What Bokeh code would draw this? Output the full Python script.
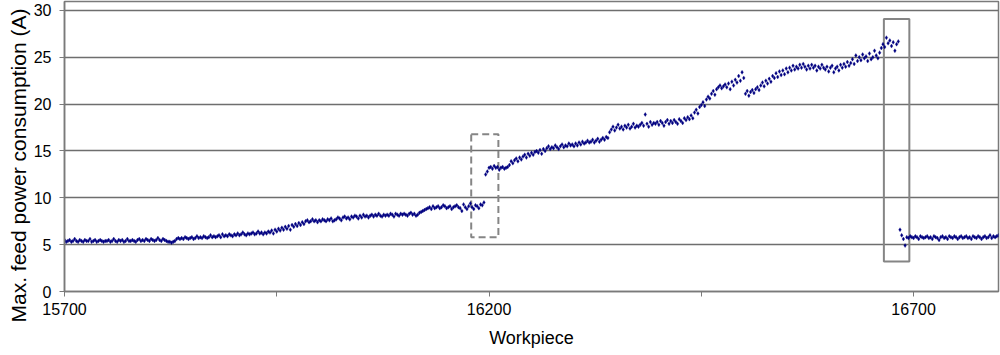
import numpy as np
from bokeh.plotting import figure
from bokeh.models import FixedTicker, Range1d, Title
from bokeh.embed import file_html
from bokeh.resources import INLINE

# ---------------- data ----------------
workpiece_step = 2

seg1_start = 15700
seg1_values = [
    5.5, 5.3, 5.4, 5.5, 5.3, 5.4, 5.6, 5.4, 5.3, 5.5,
    5.4, 5.3, 5.5, 5.4, 5.4, 5.6, 5.3, 5.4, 5.5, 5.3,
    5.4, 5.5, 5.4, 5.3, 5.4, 5.4, 5.5, 5.3, 5.4, 5.6,
    5.4, 5.3, 5.5, 5.4, 5.5, 5.3, 5.4, 5.6, 5.4, 5.4,
    5.5, 5.4, 5.3, 5.5, 5.6, 5.4, 5.5, 5.4, 5.6, 5.5,
    5.4, 5.6, 5.5, 5.4, 5.5, 5.7, 5.5, 5.4, 5.6, 5.5,
    5.4, 5.3, 5.3, 5.2, 5.3, 5.4, 5.6, 5.7, 5.6, 5.7,
    5.6, 5.8, 5.7, 5.6, 5.7, 5.8, 5.6, 5.7, 5.9, 5.7,
    5.8, 5.7, 5.9, 5.8, 5.7, 5.8, 6.0, 5.8, 5.9, 5.8,
    5.9, 6.0, 5.8, 6.1, 5.9, 6.0, 5.9, 6.1, 6.0, 5.9,
    6.1, 6.0, 6.2, 6.0, 6.1, 6.3, 6.1, 6.0, 6.2, 6.1,
    6.2, 6.3, 6.1, 6.2, 6.4, 6.2, 6.3, 6.1, 6.3, 6.2,
    6.4, 6.3, 6.5, 6.2, 6.6, 6.4, 6.7, 6.5, 6.8, 6.6,
    6.9, 6.7, 7.0, 6.6, 7.1, 6.9, 7.2, 7.0, 7.3, 7.1,
    7.4, 7.2, 7.5, 7.6, 7.4, 7.5, 7.7, 7.5, 7.6, 7.4,
    7.6, 7.5, 7.7, 7.6, 7.5, 7.7, 7.6, 7.8, 7.5, 7.6,
    7.7, 7.9, 7.8, 7.6, 7.9, 8.0, 7.8, 7.9, 7.7, 8.0,
    7.9, 8.1, 8.0, 7.8, 8.1, 7.9, 8.2, 8.0, 8.1, 7.9,
    8.1, 8.2, 8.0, 8.2, 8.1, 8.3, 8.1, 8.0, 8.2, 8.1,
    8.2, 8.1, 8.3, 8.2, 8.0, 8.3, 8.2, 8.1, 8.3, 8.2,
    8.3, 8.2, 8.1, 8.3, 8.4, 8.2, 8.3, 8.1, 8.2, 8.4,
    8.5, 8.6, 8.7, 8.8, 8.9, 9.0, 8.8, 9.1, 8.9, 9.0,
    9.1, 8.9, 9.0, 9.2, 9.1, 8.9, 9.0, 9.1, 8.8, 9.0,
    9.1, 9.2, 9.0, 8.9, 8.6, 9.3, 9.0, 8.8, 9.1, 9.4,
    9.0, 8.8, 9.2, 9.1, 8.9, 9.3, 9.2, 9.5,
]

seg2_start = 16196
seg2_values = [
    12.5, 12.8, 13.2, 13.3, 13.1, 13.4, 13.2, 13.3, 13.0, 13.2,
    13.3, 13.1, 13.2, 13.3, 13.5, 13.9, 13.7, 14.0, 14.2, 13.9,
    14.3, 14.1, 14.4, 14.6, 14.3, 14.7, 14.5, 14.8, 14.6, 14.9,
    15.0, 14.8, 15.1, 14.7, 15.2, 15.0, 15.3, 15.5, 15.2, 15.4,
    15.3, 15.6, 15.4, 15.2, 15.5, 15.7, 15.4, 15.6, 15.5, 15.8,
    15.6, 15.7, 15.5, 15.8, 15.6, 15.9, 15.7, 16.0, 15.8, 15.9,
    16.1, 15.9, 16.0, 16.2, 15.9, 16.1, 16.3, 16.0, 16.2, 16.4,
    16.2, 16.5, 16.4, 17.0, 17.3, 17.6, 17.2, 17.5, 17.8, 17.4,
    17.6, 17.3, 17.7, 17.5, 17.8, 17.4, 17.6, 17.9, 17.5, 17.7,
    17.6, 17.8, 18.0, 17.7, 18.9, 17.9, 17.6, 18.1, 17.8, 18.0,
    17.9, 18.1, 17.8, 18.2, 18.0, 17.7, 18.1, 18.3, 17.9, 18.2,
    18.0, 18.3, 18.1, 17.9, 18.4, 18.2, 18.0, 18.5, 18.3, 18.6,
    18.4, 18.8, 18.5, 19.1, 19.4, 19.0, 19.7, 19.9, 20.2, 19.8,
    20.5, 20.8, 20.6, 21.1, 21.4, 21.0, 21.6, 21.8, 22.0, 21.7,
    21.9, 22.1, 21.8, 22.2, 21.6, 22.4, 22.0, 22.6, 22.3, 23.0,
    22.5, 23.4, 22.8, 21.1, 21.4, 20.9, 21.3, 21.5, 21.2, 21.6,
    21.8, 21.5, 22.0, 22.3, 21.9, 22.5, 22.2, 22.7, 22.4, 23.0,
    22.8, 23.3, 22.9, 23.5, 23.1, 23.6, 23.2, 23.8, 23.4, 23.9,
    23.6, 24.1, 23.7, 24.0, 23.8, 24.2, 23.9, 24.3, 24.0, 23.7,
    24.1, 23.8, 24.2, 23.9, 24.1, 23.6, 24.0, 23.8, 24.2, 23.9,
    23.7, 24.0, 23.5, 23.9, 24.1, 23.4, 23.8, 24.0, 23.6, 24.2,
    23.9, 24.3, 24.0, 24.5, 24.1, 24.4, 24.8, 24.3, 25.2, 24.6,
    25.0, 24.7, 25.3, 24.9, 25.1, 24.6, 25.4, 24.8, 25.0, 25.7,
    25.2, 24.9, 25.5, 26.0, 26.4, 26.1, 27.1, 26.5, 26.8, 26.2,
    26.6, 25.7, 26.4, 26.7,
]

seg3_start = 16684
seg3_values = [
    6.6, 6.0, 5.6, 4.9, 5.8, 5.7, 5.9, 5.8, 5.7, 5.9,
    5.8, 5.6, 5.9, 5.8, 5.7, 5.8, 5.9, 5.7, 5.8, 5.6,
    5.9, 5.8, 5.7, 5.5, 5.8, 5.9, 5.7, 5.8, 5.6, 5.9,
    5.8, 5.7, 5.9, 5.8, 5.6, 5.8, 5.9, 5.7, 5.8, 5.9,
    5.7, 5.8, 5.6, 5.9, 5.8, 5.7, 5.9, 5.8, 5.6, 5.8,
    5.9, 5.7, 5.8, 6.0, 5.7, 5.9, 5.8, 5.9, 6.0,
]

# highlighted regions (workpiece range, current range)
dashed_box = dict(left=[16179], right=[16211], bottom=[5.8], top=[16.8])
solid_box = dict(left=[16665], right=[16695], bottom=[3.2], top=[29.1])

x_major_ticks = [15700, 16200, 16700]
x_minor_ticks = [15950, 16450]
y_ticks = [0, 5, 10, 15, 20, 25, 30]

x_label = "Workpiece"
y_label = "Max. feed power consumption (A)"

# ---------------- assemble ----------------
xs, ys = [], []
for start, vals in ((seg1_start, seg1_values), (seg2_start, seg2_values), (seg3_start, seg3_values)):
    xs.extend(start + workpiece_step * np.arange(len(vals)))
    ys.extend(vals)

FONT = "Liberation Sans"
GRAY = "#7a7a7a"

p = figure(width=1000, height=354, output_backend="svg", toolbar_location=None,
           x_range=Range1d(15700, 16800), y_range=Range1d(0, 30.96),
           min_border_left=64, min_border_right=2, min_border_top=1, min_border_bottom=63)

p.background_fill_color = "white"
p.border_fill_color = "white"
p.outline_line_color = GRAY
p.outline_line_width = 1.5

# axes
p.xaxis.ticker = FixedTicker(ticks=x_major_ticks, minor_ticks=x_minor_ticks)
p.yaxis.ticker = FixedTicker(ticks=y_ticks)
for ax in (p.xaxis[0], p.yaxis[0]):
    ax.axis_line_color = GRAY
    ax.axis_line_width = 1.5
    ax.major_tick_line_color = GRAY
    ax.minor_tick_line_color = GRAY
    ax.major_tick_out = 5
    ax.major_tick_in = 0
    ax.minor_tick_out = 5
    ax.minor_tick_in = 0
    ax.major_label_text_font = FONT
    ax.major_label_text_font_size = "16px"
    ax.major_label_text_color = "black"
    ax.axis_label_text_font = FONT
    ax.axis_label_text_font_style = "normal"
    ax.axis_label_text_color = "black"
p.yaxis.minor_tick_line_color = None
p.xaxis.axis_label = x_label
p.xaxis.axis_label_text_font_size = "18px"
p.xaxis.major_label_standoff = 6
p.yaxis.major_label_standoff = 8
p.xaxis.axis_label_standoff = 10

# y-axis title: starts below the frame bottom, as in the reference
p.add_layout(Title(text=y_label, align="left", offset=-31, standoff=2,
                   text_font=FONT, text_font_size="21px",
                   text_font_style="normal", text_color="black"), "left")

# grid
p.xgrid.grid_line_color = None
p.ygrid.grid_line_color = "#6e6e6e"
p.ygrid.grid_line_width = 1.3

# highlight boxes
p.quad(**dashed_box, fill_color=None, line_color="#858585",
       line_width=2, line_dash="7 4")
p.quad(**solid_box, fill_color=None, line_color="#858585", line_width=2)

# data points
p.scatter(xs, ys, marker="diamond", size=4, fill_color="#000080",
          line_color="#000080", line_width=0.3)

open("out.html", "w").write(file_html(p, INLINE))
